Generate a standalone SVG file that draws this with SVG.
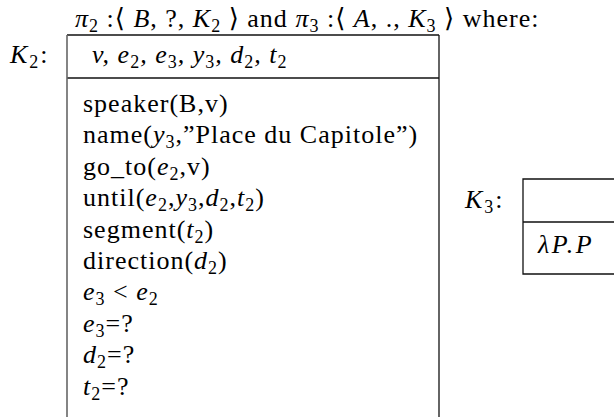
<svg xmlns="http://www.w3.org/2000/svg" width="614" height="417" viewBox="0 0 614 417">
<style>
text{font-family:"Liberation Serif","DejaVu Serif",serif;font-size:26px;fill:#000;letter-spacing:1px}
.i{font-style:italic}
.s{font-size:18px;baseline-shift:-5px;font-style:normal}
.box{fill:none;stroke:#111;stroke-width:1.3}
.side{stroke:#666;stroke-width:1.6}
</style>
<rect width="614" height="417" fill="#fff"/>
<g id="title">
<text x="75" y="27"><tspan class="i">π</tspan><tspan class="s">2</tspan> :⟨ <tspan class="i">B</tspan>, ?, <tspan class="i">K</tspan><tspan class="s">2</tspan> ⟩ and <tspan class="i">π</tspan><tspan class="s">3</tspan> :⟨ <tspan class="i">A</tspan>, ., <tspan class="i">K</tspan><tspan class="s">3</tspan> ⟩ where:</text>
</g>
<g id="K2">
<text x="10" y="63" style="letter-spacing:2px"><tspan class="i">K</tspan><tspan class="s">2</tspan>:</text>
<line class="box" x1="67" y1="35" x2="439" y2="35"/>
<line class="box" x1="67" y1="78" x2="439" y2="78"/>
<line class="box" x1="439" y1="35" x2="439" y2="420"/>
<line class="box side" x1="67" y1="35" x2="67" y2="420"/>
<text x="92" y="63" class="i">v, e<tspan class="s">2</tspan>, e<tspan class="s">3</tspan>, y<tspan class="s">3</tspan>, d<tspan class="s">2</tspan>, t<tspan class="s">2</tspan></text>
<text x="83" y="112">speaker(B,v)</text>
<text x="83" y="143.4">name(<tspan class="i">y</tspan><tspan class="s">3</tspan>,”Place du Capitole”)</text>
<text x="83" y="174.8">go_to(<tspan class="i">e</tspan><tspan class="s">2</tspan>,v)</text>
<text x="83" y="206.2">until(<tspan class="i">e</tspan><tspan class="s">2</tspan>,<tspan class="i">y</tspan><tspan class="s">3</tspan>,<tspan class="i">d</tspan><tspan class="s">2</tspan>,<tspan class="i">t</tspan><tspan class="s">2</tspan>)</text>
<text x="83" y="237.6">segment(<tspan class="i">t</tspan><tspan class="s">2</tspan>)</text>
<text x="83" y="269">direction(<tspan class="i">d</tspan><tspan class="s">2</tspan>)</text>
<text x="83" y="300.4"><tspan class="i">e</tspan><tspan class="s">3</tspan> &lt; <tspan class="i">e</tspan><tspan class="s">2</tspan></text>
<text x="83" y="331.8"><tspan class="i">e</tspan><tspan class="s">3</tspan>=?</text>
<text x="83" y="363.2"><tspan class="i">d</tspan><tspan class="s">2</tspan>=?</text>
<text x="83" y="394.6"><tspan class="i">t</tspan><tspan class="s">2</tspan>=?</text>
</g>
<g id="K3">
<text x="465" y="208" style="letter-spacing:2px"><tspan class="i">K</tspan><tspan class="s">3</tspan>:</text>
<path class="box" d="M620 179H523V274H620M523 222H620"/>
<text x="538" y="253" class="i" style="letter-spacing:2.5px">λP.P</text>
</g>
<g id="connectors"/>
</svg>
